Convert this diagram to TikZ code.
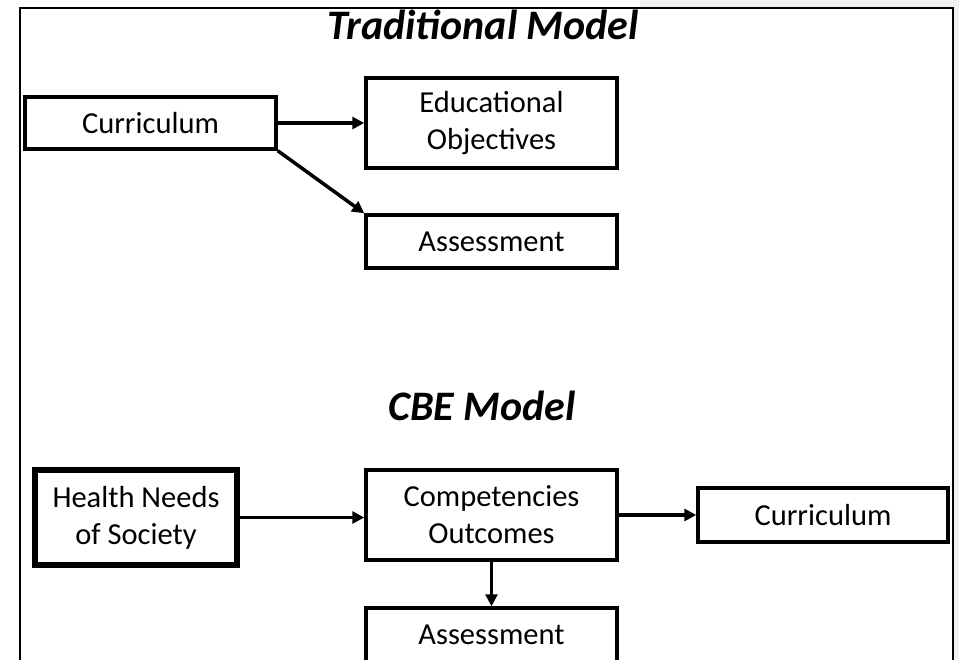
\documentclass[tikz,border=0pt]{standalone}
\usepackage{fontspec}
\setmainfont{Carlito}
\usetikzlibrary{arrows.meta}

\tikzset{
  box/.style = {draw, line width = 3.5pt, align = center, inner sep = 0pt,
                font = \fontsize{30.5}{37}\selectfont},
  title/.style = {anchor = base, font = \fontsize{42}{48}\selectfont\bfseries\itshape},
  link/.style = {line width = 3.5pt, -{Triangle[length = 12pt, width = 12pt]}}
}

\begin{document}
\begin{tikzpicture}[x = 1pt, y = -1pt]
  \useasboundingbox (0,0) rectangle (959,659);
  \fill [white] (0,0) rectangle (959,659);
  \fill [black!6] (953,0) rectangle (959,659);
  \fill [black!6] (640,0) rectangle (953,8);
  \draw [line width = 2pt] (20,690) -- (20,8) -- (953,8) -- (953,690);

  % traditional model
  \node [title] (trad) at (483,39) {Traditional Model};
  \node [box, minimum width = 251pt, minimum height = 52pt]
        (curr) at (150.5,123) {Curriculum};
  \node [box, minimum width = 251pt, minimum height = 90pt]
        (obj) at (491.5,123) {Educational\\Objectives};
  \node [box, minimum width = 251pt, minimum height = 53pt]
        (assess) at (491.5,241.5) {Assessment};

  \draw [link] (curr.east) -- (obj.west);
  \draw [link] (curr.south east) -- (assess.north west);

  % CBE model
  \node [title] (cbe) at (482,420) {CBE Model};
  \node [box, line width = 5.5pt, minimum width = 202pt, minimum height = 95pt]
        (needs) at (136,517.5) {Health Needs\\of Society};
  \node [box, minimum width = 251pt, minimum height = 90pt]
        (comp) at (491.5,515) {Competencies\\Outcomes};
  \node [box, minimum width = 250pt, minimum height = 54pt]
        (cbecurr) at (823,515) {Curriculum};
  \node [box, minimum width = 251pt, minimum height = 54pt]
        (cbeassess) at (491.5,635) {Assessment};

  \draw [link] (needs.east) -- (needs.east -| comp.west);
  \draw [link] (comp.east) -- (cbecurr.west);
  \draw [link] (comp.south) -- (cbeassess.north);
\end{tikzpicture}
\end{document}
